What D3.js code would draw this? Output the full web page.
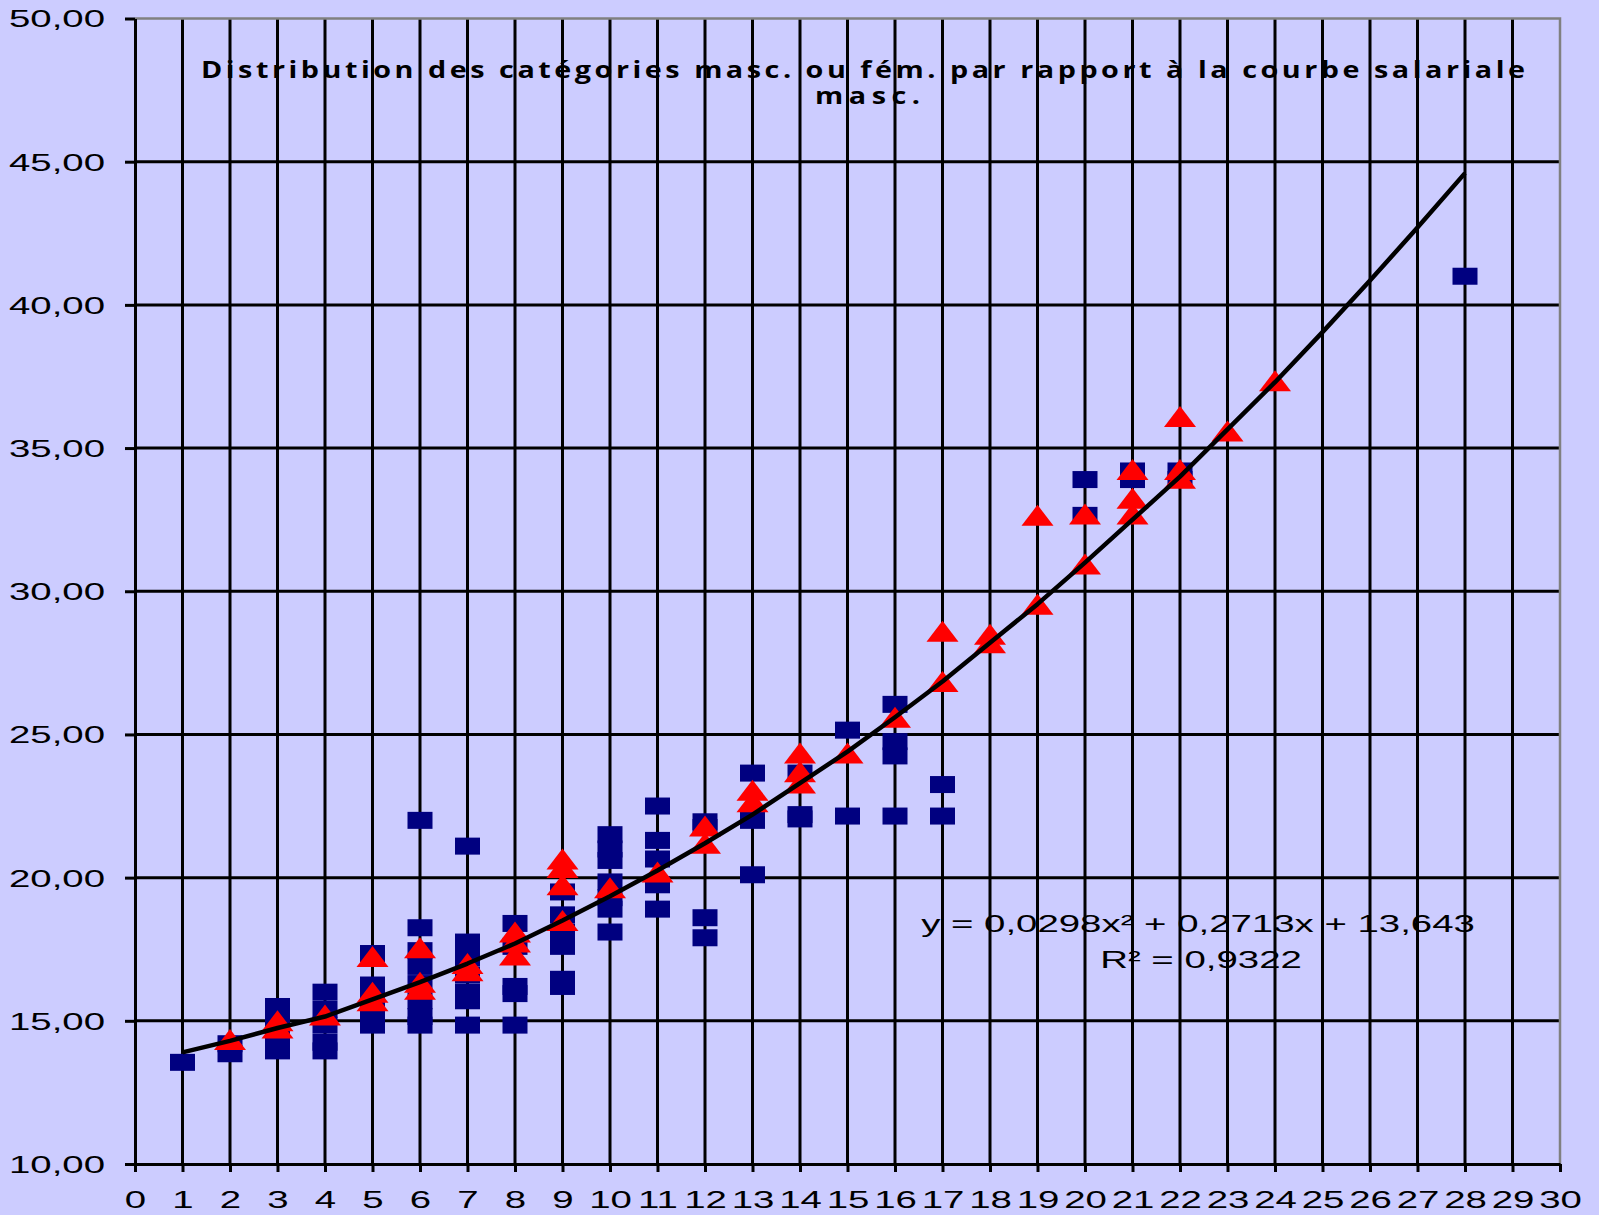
<!DOCTYPE html>
<html>
<head>
<meta charset="utf-8">
<title>Distribution des catégories</title>
<style>
  body { margin: 0; background: #ccccff; }
  svg { display: block; }
</style>
</head>
<body>
<script src="https://cdn.jsdelivr.net/npm/d3@7/dist/d3.min.js"></script>
<script>
var width = 1599, height = 1215;

// catégories masculines (carrés bleus)
var mascCat = [1,
  2, 2,
  3, 3, 3, 3,
  4, 4, 4, 4, 4,
  5, 5, 5, 5, 5,
  6, 6, 6, 6, 6, 6, 6, 6,
  7, 7, 7, 7, 7, 7, 7,
  8, 8, 8, 8, 8,
  9, 9, 9, 9, 9, 9,
  10, 10, 10, 10, 10, 10, 10,
  11, 11, 11, 11, 11,
  12, 12, 12, 12,
  13, 13, 13,
  14, 14, 14,
  15, 15,
  16, 16, 16, 16,
  17, 17,
  20, 20,
  21, 21,
  22, 22,
  28];
var mascSal = [13.55,
  14.2, 13.85,
  15.5, 15.0, 14.5, 13.95,
  16.0, 15.4, 14.85, 14.25, 13.95,
  17.35, 16.25, 15.7, 15.4, 14.85,
  22.0, 18.25, 17.45, 16.9, 16.3, 15.7, 15.15, 14.85,
  21.1, 17.75, 17.2, 16.6, 16.0, 15.7, 14.85,
  18.4, 17.6, 16.2, 15.95, 14.85,
  19.5, 18.7, 18.1, 17.6, 16.45, 16.2,
  21.5, 21.0, 20.6, 19.85, 19.3, 18.9, 18.1,
  22.5, 21.3, 20.65, 19.75, 18.9,
  21.95, 21.75, 18.6, 17.9,
  23.65, 22.0, 20.1,
  23.65, 22.2, 22.05,
  25.15, 22.15,
  26.05, 24.75, 24.25, 22.15,
  23.25, 22.15,
  33.9, 32.65,
  34.2, 33.9,
  34.2, 33.9,
  41.0];

// catégories féminines (triangles rouges)
var femCat = [2,
  3, 3,
  4,
  5, 5, 5,
  6, 6, 6,
  7, 7,
  8, 8, 8,
  9, 9, 9, 9,
  10,
  11,
  12, 12,
  13, 13,
  14, 14, 14,
  15,
  16,
  17, 17,
  18, 18,
  19, 19,
  20, 20,
  21, 21, 21,
  22, 22, 22,
  23,
  24];
var femSal = [14.35,
  15.0, 14.75,
  15.2,
  17.25, 16.0, 15.7,
  17.55, 16.35, 16.1,
  17.0, 16.75,
  18.1, 17.75, 17.3,
  20.65, 20.35, 19.75, 18.5,
  19.65,
  20.2,
  21.8, 21.2,
  23.05, 22.65,
  24.35, 23.7, 23.3,
  24.35,
  25.6,
  28.6, 26.85,
  28.5, 28.2,
  32.65, 29.55,
  32.7, 30.95,
  34.25, 33.25, 32.7,
  36.1, 34.25, 33.95,
  35.6,
  37.35];

// courbe salariale masc.
var courbeCat = [1, 2, 3, 4, 5, 6, 7, 8, 9, 10, 11, 12, 13, 14, 15, 16, 17, 18, 19, 20, 21, 22, 23, 24, 25, 26, 27, 28];
var courbeSal = [13.9, 14.3, 14.75, 15.15, 15.75, 16.35, 17.0, 17.7, 18.5, 19.35, 20.25, 21.2, 22.2, 23.3, 24.4, 25.6, 26.85, 28.2, 29.55, 31.0, 32.5, 34.0, 35.65, 37.3, 39.05, 40.85, 42.7, 44.6];

var xTicks = d3.range(0, 31);
var yTicks = [10, 15, 20, 25, 30, 35, 40, 45, 50];

var titre = ["Distribution des catégories masc. ou fém. par rapport à la courbe salariale", "masc."];
var equation = ["y = 0,0298x² + 0,2713x + 13,643", "R² = 0,9322"];

var plotLeft = 135, plotRight = 1560, plotTop = 18.5, plotBottom = 1164;
var stretch = 1.6; // le texte de l'original est étiré horizontalement
var titleStretch = 1.25;

var svg = d3.select("body").append("svg")
  .attr("width", width)
  .attr("height", height)
  .style("background", "#ccccff");

var x = d3.scaleLinear().domain([0, 30]).range([plotLeft, plotRight]);
var y = d3.scaleLinear().domain([10, 50]).range([plotBottom, plotTop]);

// titre
var t = svg.append("g").attr("font-family", "'Open Sans', 'DejaVu Sans', sans-serif")
  .attr("font-weight", 700).attr("font-size", 23).attr("fill", "#000");
t.append("text")
  .attr("transform", "translate(201,78) scale(" + titleStretch + ",1)")
  .attr("textLength", 1324 / titleStretch)
  .attr("lengthAdjust", "spacing").text(titre[0]);
t.append("text")
  .attr("transform", "translate(815,104) scale(" + titleStretch + ",1)")
  .attr("textLength", 105 / titleStretch)
  .attr("lengthAdjust", "spacing").text(titre[1]);

// équation de la tendance
var eq = svg.append("g").attr("font-family", "'Liberation Sans', Arial, sans-serif")
  .attr("font-size", 24).attr("fill", "#000").attr("text-anchor", "middle");
eq.append("text").attr("transform", "translate(1198,932) scale(" + stretch + ",1)").text(equation[0]);
eq.append("text").attr("transform", "translate(1201,968) scale(" + stretch + ",1)").text(equation[1]);

// quadrillage
svg.append("g").selectAll("line")
  .data(yTicks.filter(function(d) { return d > 10 && d < 50; }))
  .enter().append("line")
  .attr("x1", plotLeft).attr("x2", plotRight)
  .attr("y1", function(d) { return y(d); }).attr("y2", function(d) { return y(d); })
  .attr("stroke", "#000").attr("stroke-width", 3);
svg.append("g").selectAll("line")
  .data(xTicks.filter(function(d) { return d > 0 && d < 30; }))
  .enter().append("line")
  .attr("x1", function(d) { return x(d); }).attr("x2", function(d) { return x(d); })
  .attr("y1", plotTop).attr("y2", plotBottom)
  .attr("stroke", "#000").attr("stroke-width", 3);

// bordure du graphique (haut et droite)
svg.append("path")
  .attr("d", "M" + plotLeft + "," + plotTop + "H" + plotRight + "V" + plotBottom)
  .attr("fill", "none").attr("stroke", "#808080").attr("stroke-width", 2.5);

// axes
var yAxis = svg.append("g")
  .attr("transform", "translate(" + plotLeft + ",0)")
  .call(d3.axisLeft(y).tickValues(yTicks).tickSizeOuter(0).tickSizeInner(10)
    .tickFormat(function(d) { return d3.format(".2f")(d).replace(".", ","); }));
var xAxis = svg.append("g")
  .attr("transform", "translate(0," + plotBottom + ")")
  .call(d3.axisBottom(x).tickValues(xTicks).tickSizeOuter(0).tickSizeInner(8)
    .tickFormat(d3.format("d")));

[yAxis, xAxis].forEach(function(a) {
  a.select(".domain").attr("stroke", "#000").attr("stroke-width", 3);
  a.selectAll(".tick line").attr("stroke", "#000").attr("stroke-width", 3);
  a.selectAll("text").attr("fill", "#000")
    .attr("font-family", "'Liberation Sans', Arial, sans-serif").attr("font-size", 24);
});
yAxis.selectAll("text")
  .attr("x", -30 / stretch).attr("dy", "0.35em")
  .attr("transform", "scale(" + stretch + ",1)");
xAxis.selectAll("text")
  .attr("y", 44).attr("dy", 0)
  .attr("transform", "scale(" + stretch + ",1)");

// carrés bleus
var sqW = 25, sqH = 17;
svg.append("g").selectAll("rect")
  .data(d3.range(mascCat.length))
  .enter().append("rect")
  .attr("x", function(i) { return x(mascCat[i]) - sqW / 2; })
  .attr("y", function(i) { return y(mascSal[i]) - sqH / 2; })
  .attr("width", sqW).attr("height", sqH)
  .attr("fill", "#000080");

// triangles rouges
var trW = 32, trH = 21;
svg.append("g").selectAll("path")
  .data(d3.range(femCat.length))
  .enter().append("path")
  .attr("transform", function(i) { return "translate(" + x(femCat[i]) + "," + y(femSal[i]) + ")"; })
  .attr("d", "M0," + (-trH / 2) + "L" + (trW / 2) + "," + (trH / 2) + "L" + (-trW / 2) + "," + (trH / 2) + "Z")
  .attr("fill", "#ff0000");

// courbe
var line = d3.line()
  .x(function(i) { return x(courbeCat[i]); })
  .y(function(i) { return y(courbeSal[i]); });
svg.append("path")
  .datum(d3.range(courbeCat.length))
  .attr("d", line)
  .attr("fill", "none").attr("stroke", "#000").attr("stroke-width", 4.5)
  .attr("stroke-linejoin", "round");
</script>
</body>
</html>
